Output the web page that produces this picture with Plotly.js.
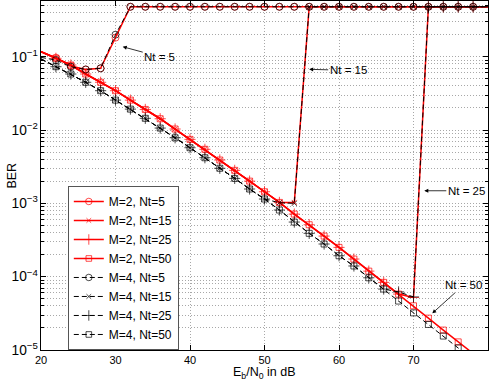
<!DOCTYPE html>
<html>
<head>
<meta charset="utf-8">
<script src="https://cdn.plot.ly/plotly-3.0.1.min.js"></script>
<style>
  html, body { margin: 0; padding: 0; background: #fff; }
  #berChart { width: 491px; height: 380px; }
</style>
</head>
<body>
<div id="berChart"></div>
<script>
// Eb/N0 points (dB)
const ebn0 = [20, 22, 24, 26, 28, 30, 32, 34, 36, 38, 40, 42, 44, 46, 48, 50,
    52, 54, 56, 58, 60, 62, 64, 66, 68, 70, 72, 74, 76, 78, 80];

// M = 2 (red, solid)
const berM2Nt5 = [0.117, 0.097, 0.075, 0.067, 0.0695, 0.182, 0.48, 0.48, 0.48, 0.48, 0.48,
    0.48, 0.48, 0.48, 0.48, 0.48, 0.48, 0.48, 0.48, 0.48, 0.48, 0.48, 0.48, 0.48, 0.48,
    0.48, 0.48, 0.48, 0.48, 0.48, 0.48];
const berM2Nt15 = [0.117, 0.0951, 0.0771, 0.0581, 0.0448, 0.0344, 0.0256, 0.0191, 0.01426,
    0.01033, 0.00746, 0.00546, 0.0039, 0.00282, 0.00201, 0.00144, 0.00103, 0.00103,
    0.48, 0.48, 0.48, 0.48, 0.48, 0.48, 0.48, 0.48, 0.48, 0.48, 0.48, 0.48, 0.48];
const berM2Nt25 = [0.117, 0.0951, 0.0771, 0.0581, 0.0448, 0.0344, 0.0256, 0.0191, 0.01426,
    0.01033, 0.00746, 0.00546, 0.0039, 0.00282, 0.00201, 0.00144, 0.00103, 7.14e-4,
    5.11e-4, 3.58e-4, 2.51e-4, 1.74e-4, 1.19e-4, 8.36e-5, 5.79e-5, 5.2e-5,
    0.48, 0.48, 0.48, 0.48, 0.48];
const berM2Nt50 = [0.117, 0.0951, 0.0771, 0.0581, 0.0448, 0.0344, 0.0256, 0.0191, 0.01426,
    0.01033, 0.00746, 0.00546, 0.0039, 0.00282, 0.00201, 0.00144, 0.00103, 7.14e-4,
    5.11e-4, 3.58e-4, 2.51e-4, 1.74e-4, 1.19e-4, 8.36e-5, 5.79e-5, 4.01e-5,
    2.72e-5, 1.87e-5, 1.29e-5, 8.9e-6, 6.2e-6];

// M = 4 (black, dashed)
const berM4Nt5 = [0.098, 0.090, 0.073, 0.067, 0.0695, 0.200, 0.48, 0.48, 0.48, 0.48, 0.48,
    0.48, 0.48, 0.48, 0.48, 0.48, 0.48, 0.48, 0.48, 0.48, 0.48, 0.48, 0.48, 0.48, 0.48,
    0.48, 0.48, 0.48, 0.48, 0.48, 0.48];
const berM4Nt15 = [0.0933, 0.0731, 0.0581, 0.0448, 0.0344, 0.0256, 0.0193, 0.01445, 0.01064,
    0.00785, 0.00574, 0.00419, 0.00301, 0.00219, 0.00157, 0.001146, 0.00102, 0.00100,
    0.48, 0.48, 0.48, 0.48, 0.48, 0.48, 0.48, 0.48, 0.48, 0.48, 0.48, 0.48, 0.48];
const berM4Nt25 = [0.0933, 0.0731, 0.0581, 0.0448, 0.0344, 0.0256, 0.0193, 0.01445, 0.01064,
    0.00785, 0.00574, 0.00419, 0.00301, 0.00219, 0.00157, 0.001146, 8.11e-4, 5.56e-4,
    3.9e-4, 2.79e-4, 1.93e-4, 1.40e-4, 9.66e-5, 6.78e-5, 6.2e-5, 5.3e-5,
    0.48, 0.48, 0.48, 0.48, 0.48];
const berM4Nt50 = [0.0933, 0.0731, 0.0581, 0.0448, 0.0344, 0.0256, 0.0193, 0.01445, 0.01064,
    0.00785, 0.00574, 0.00419, 0.00301, 0.00219, 0.00157, 0.001146, 8.11e-4, 5.56e-4,
    3.9e-4, 2.79e-4, 1.93e-4, 1.40e-4, 9.66e-5, 6.78e-5, 4.65e-5, 3.21e-5,
    2.23e-5, 1.55e-5, 1.07e-5, 7.4e-6, 5.1e-6];

const seriesNames = ["M=2, Nt=5", "M=2, Nt=15", "M=2, Nt=25", "M=2, Nt=50",
    "M=4, Nt=5", "M=4, Nt=15", "M=4, Nt=25", "M=4, Nt=50"];

// no marker drawn on the axis limits
function markerSizes(size) {
    return ebn0.map((x, i) => (i === 0 || i === ebn0.length - 1) ? 0 : size);
}

const symbols = ['circle-open', 'x-thin-open', 'cross-thin-open', 'square-open'];
const symSize = [7, 5, 8, 6];

function makeTrace(name, y, k, color, dashed) {
    return {
        x: ebn0, y: y, name: name, type: 'scatter', mode: 'lines+markers',
        line: { color: color, width: dashed ? 1 : 1.5, dash: dashed ? '5px,3px' : 'solid' },
        marker: {
            symbol: symbols[k], size: markerSizes(symSize[k]), color: color,
            line: { color: color, width: 1 }
        }
    };
}

const data = [
    makeTrace(seriesNames[0], berM2Nt5, 0, '#ff0000', false),
    makeTrace(seriesNames[1], berM2Nt15, 1, '#ff0000', false),
    makeTrace(seriesNames[2], berM2Nt25, 2, '#ff0000', false),
    makeTrace(seriesNames[3], berM2Nt50, 3, '#ff0000', false),
    makeTrace(seriesNames[4], berM4Nt5, 0, '#000000', true),
    makeTrace(seriesNames[5], berM4Nt15, 1, '#000000', true),
    makeTrace(seriesNames[6], berM4Nt25, 2, '#000000', true),
    makeTrace(seriesNames[7], berM4Nt50, 3, '#000000', true)
];

const font = 'Liberation Sans, Arial, Helvetica, sans-serif';
const gridColor = '#a8a8a8';
const gridDash = '1px,2px';

function arrowNote(text, x, logY, ax, ay) {
    return {
        text: text, x: x, y: logY, xref: 'x', yref: 'y', ax: ax, ay: ay,
        showarrow: true, arrowhead: 2, arrowsize: 1, arrowwidth: 0.8, arrowcolor: '#000',
        font: { family: font, size: 11.5, color: '#000' }
    };
}

const layout = {
    width: 491, height: 380,
    margin: { l: 41, r: 3, t: 1, b: 30 },
    paper_bgcolor: '#fff', plot_bgcolor: '#fff',
    font: { family: font, size: 12, color: '#000' },
    showlegend: true,
    legend: {
        x: 0.06, y: 0.47, xanchor: 'left', yanchor: 'top',
        bgcolor: '#fff', bordercolor: '#555', borderwidth: 1,
        font: { family: font, size: 12 }, tracegroupgap: 0
    },
    xaxis: {
        range: [20, 80], tick0: 20, dtick: 10,
        ticks: 'inside', ticklen: 5, tickcolor: '#000', mirror: 'ticks',
        showline: true, linecolor: '#000', linewidth: 1,
        showgrid: true, gridcolor: gridColor, griddash: gridDash, zeroline: false,
        tickfont: { size: 11 }, ticklabelstandoff: 0,
        automargin: false
    },
    yaxis: {
        type: 'log', range: [-5, -0.24], dtick: 1, exponentformat: 'power',
        ticks: 'inside', ticklen: 5, tickcolor: '#000', mirror: 'ticks',
        showline: true, linecolor: '#000', linewidth: 1,
        showgrid: true, gridcolor: gridColor, griddash: gridDash, zeroline: false,
        tickfont: { size: 11 },
        minor: { dtick: 'D1', ticks: 'inside', ticklen: 3, tickcolor: '#000',
            showgrid: true, gridcolor: gridColor, griddash: gridDash },
        automargin: false
    },
    annotations: [
        arrowNote('Nt = 5', 30.97, -0.864, 37, 10),
        arrowNote('Nt = 15', 56.0, -1.172, 39, 1),
        arrowNote('Nt = 25', 71.45, -2.828, 42, 0),
        arrowNote('Nt = 50', 72.52, -4.50, 31, -28),
        // axis titles
        { text: 'E<sub>b</sub>/N<sub>0</sub> in dB', xref: 'paper', yref: 'paper',
          x: 0.5, y: -0.04, xanchor: 'center', yanchor: 'top', showarrow: false,
          borderpad: 0, font: { family: font, size: 12.5, color: '#000' } },
        { text: 'BER', xref: 'paper', yref: 'paper', x: -0.067, y: 0.5,
          xanchor: 'center', yanchor: 'middle', textangle: -90, showarrow: false,
          font: { family: font, size: 12.5, color: '#000' } }
    ]
};

Plotly.newPlot('berChart', data, layout, { displayModeBar: false, staticPlot: true });
</script>
</body>
</html>
